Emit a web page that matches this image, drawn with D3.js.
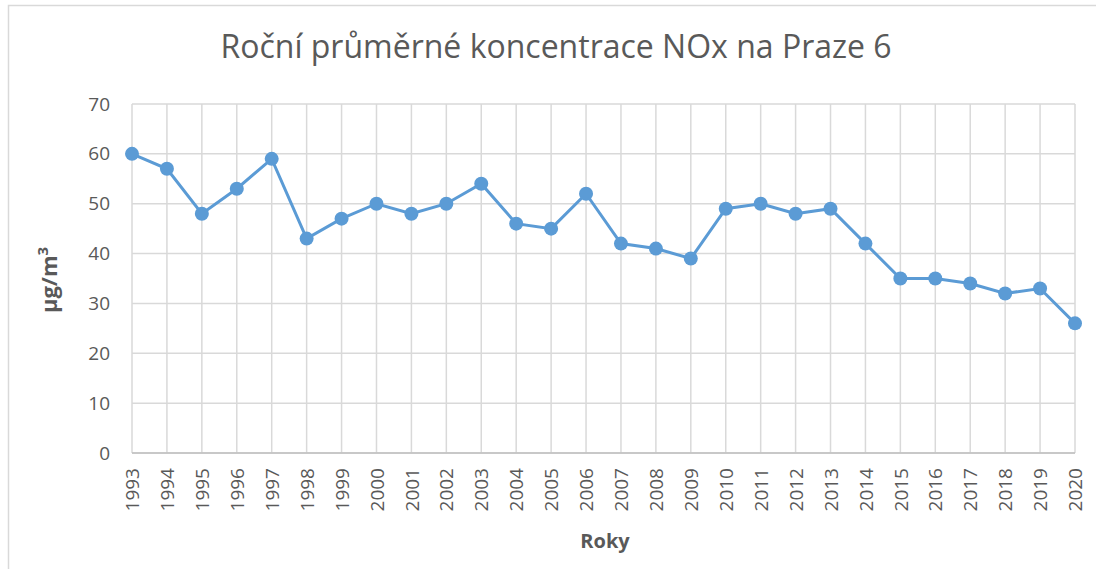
<!DOCTYPE html>
<html>
<head>
<meta charset="utf-8">
<script src="https://cdn.jsdelivr.net/npm/d3@7"></script>
<style>
  body { margin: 0; background: #fff; }
  svg { display: block; font-family: "Open Sans", "Noto Sans", sans-serif; }
</style>
</head>
<body>
<script>
const years = [1993, 1994, 1995, 1996, 1997, 1998, 1999, 2000, 2001, 2002, 2003, 2004, 2005, 2006,
  2007, 2008, 2009, 2010, 2011, 2012, 2013, 2014, 2015, 2016, 2017, 2018, 2019, 2020];
const noxValues = [60, 57, 48, 53, 59, 43, 47, 50, 48, 50, 54, 46, 45, 52,
  42, 41, 39, 49, 50, 48, 49, 42, 35, 35, 34, 32, 33, 26];
const yTicks = [0, 10, 20, 30, 40, 50, 60, 70];

const width = 1096;
const height = 569;

const svg = d3.select('body').append('svg')
  .attr('width', width)
  .attr('height', height);

// chart frame (partly cut off in the screenshot)
svg.append('path')
  .attr('d', `M8.5,${height} V5.5 H${width}`)
  .attr('fill', 'none')
  .attr('stroke', '#d9d9d9')
  .attr('stroke-width', 1.5);

const x = d3.scalePoint()
  .domain(years)
  .range([132, 1075]);

const y = d3.scaleLinear()
  .domain([0, 70])
  .range([453, 104]);

// horizontal grid
svg.append('g')
  .selectAll('line')
  .data(yTicks)
  .enter().append('line')
  .attr('x1', x(years[0]))
  .attr('x2', x(years[years.length - 1]))
  .attr('y1', d => y(d))
  .attr('y2', d => y(d))
  .attr('stroke', '#d9d9d9')
  .attr('stroke-width', 1.5);

// vertical grid
svg.append('g')
  .selectAll('line')
  .data(years)
  .enter().append('line')
  .attr('x1', d => x(d))
  .attr('x2', d => x(d))
  .attr('y1', y(70))
  .attr('y2', y(0))
  .attr('stroke', '#d9d9d9')
  .attr('stroke-width', 1.5);

// axis base line
svg.append('line')
  .attr('x1', x(years[0]))
  .attr('x2', x(years[years.length - 1]))
  .attr('y1', y(0))
  .attr('y2', y(0))
  .attr('stroke', '#bfbfbf')
  .attr('stroke-width', 1.5);

// y tick labels
const yAxis = svg.append('g')
  .attr('transform', 'translate(110,0)')
  .call(d3.axisLeft(y).tickValues(yTicks).tickSize(0).tickPadding(0));
yAxis.select('.domain').remove();
yAxis.selectAll('text')
  .attr('fill', '#595959')
  .style('font-size', '19px')
  .style('font-family', '"Open Sans", sans-serif');

// x tick labels, rotated
const xAxis = svg.append('g')
  .attr('transform', `translate(0,${y(0)})`)
  .call(d3.axisBottom(x).tickSize(0).tickFormat(d3.format('d')));
xAxis.select('.domain').remove();
xAxis.selectAll('text')
  .attr('fill', '#595959')
  .style('font-size', '19px')
  .style('font-family', '"Open Sans", sans-serif')
  .attr('transform', 'rotate(-90)')
  .attr('text-anchor', 'end')
  .attr('x', -15)
  .attr('y', 0)
  .attr('dy', '0.35em');

// line
svg.append('path')
  .datum(noxValues)
  .attr('fill', 'none')
  .attr('stroke', '#5b9bd5')
  .attr('stroke-width', 3)
  .attr('d', d3.line()
    .x((d, i) => x(years[i]))
    .y(d => y(d)));

// markers
svg.append('g')
  .selectAll('circle')
  .data(noxValues)
  .enter().append('circle')
  .attr('cx', (d, i) => x(years[i]))
  .attr('cy', d => y(d))
  .attr('r', 7)
  .attr('fill', '#5b9bd5');

// title
svg.append('text')
  .attr('x', 556)
  .attr('y', 58)
  .attr('text-anchor', 'middle')
  .attr('fill', '#595959')
  .style('font-size', '32px')
  .text('Roční průměrné koncentrace NOx na Praze 6');

// axis titles
const yTitle = svg.append('text')
  .attr('transform', 'translate(57,280) rotate(-90)')
  .attr('text-anchor', 'middle')
  .attr('fill', '#595959')
  .style('font-size', '22px')
  .style('font-weight', 'bold');
yTitle.append('tspan').text('µg/m');
yTitle.append('tspan')
  .attr('dy', -9)
  .style('font-size', '15px')
  .text('3');

svg.append('text')
  .attr('x', 605)
  .attr('y', 548)
  .attr('text-anchor', 'middle')
  .attr('fill', '#595959')
  .style('font-size', '20px')
  .style('font-weight', 'bold')
  .text('Roky');
</script>
</body>
</html>
